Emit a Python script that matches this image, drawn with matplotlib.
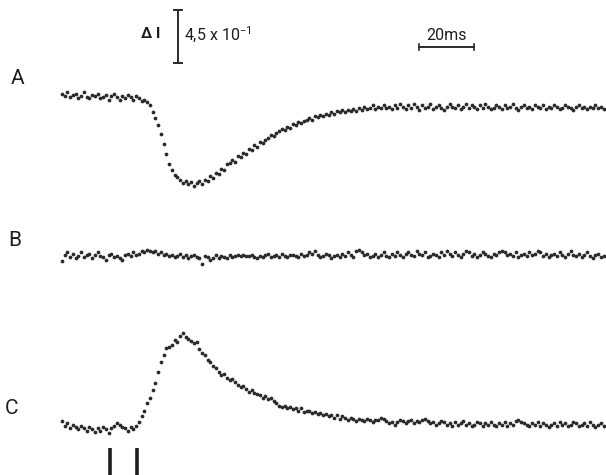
"""Dotted recordings A/B/C with scale bars (scan-style reproduction)."""
import numpy as np
import matplotlib
matplotlib.use("Agg")
import matplotlib.pyplot as plt

# ---- data: one sample per ms, values in units of 1e-2 (Delta I) ----
trace_a = [2, 0, 3, -1, 1, 2, -2, 0, 3, -1, -2, 1, 0, 2, -2, -1, 1, -3, 0, 2,
           -1, -3, 0, -2, 1, -1, -3, 0, -2, -4, -3,
           -5, -8, -14, -19, -25, -32, -41, -49, -58, -63, -67, -69, -71, -74, -72,
           -75, -73, -76, -74, -72, -75, -71, -72, -68, -70, -65, -66, -62, -63, -58,
           -57, -54, -56, -51, -52, -48, -49, -45, -46, -42, -43, -39, -40, -37, -36,
           -33, -34, -31, -30, -28, -29, -26, -27, -24, -25, -22, -23, -21, -20, -19,
           -20, -17, -18, -16, -17, -15, -16, -14, -15, -13, -14, -12, -14, -12, -13,
           -11, -13, -10, -12, -9, -11, -10, -8, -11, -9, -10, -8, -10, -9, -11,
           -8, -10, -7, -9, -11, -8, -10, -7, -9, -12, -8, -10, -9, -7, -11, -9, -8, -10, -12, -9,
           -7, -9, -10, -8, -11, -9, -7, -10, -8, -9, -11, -8, -10, -7, -9, -11, -10, -8, -9, -11,
           -8, -10, -9, -7, -10, -12, -9, -8, -10, -9, -11, -8, -9, -10, -8, -11, -9, -10, -8, -9,
           -11, -10, -8, -9, -10, -12, -9, -8, -10, -9, -11, -9, -10, -8, -10, -9, -11]
trace_b = [-4, 1, 3, -1, 2, -2, 0, 3, -1, 1, 2, -2, 1, 3, 0, -1, -3, 1, 2, -1,
           0, -2, -3, 1, 2, 0, 3, 1, 2, 4, 3, 5, 4, 3, 4, 2, 3, 1, 2, 0,
           1, -1, 0, 2, -1, 1, -2, 0, 1, -1, -2, -7, 0, -1, -3, -2, 1, -2, 0, -1,
           -2, 1, -1, 0, 1, 0, 1, 0, 0, 1, -1, -2, 0, -1, 1, 2, -1, 0, 1, -1,
           2, 0, -1, 1, 1, 0, -1, 2, 0, 1, 3, 2, 4, 1, -1, 0, 2, 1, -2, 0,
           1, -1, 2, 0, 3, 1, -1, 4, 5, 3, 1, 2, -1, 0, 2, -1, 1, 3, 0, -1,
           2, 0, 3, 1, -1, 2, 3, 1, 0, 4, 2, 1, 3, -1, 0, 2, 1, -1, 3, 1,
           4, 2, 0, 3, 1, -1, 2, 4, 3, 0, 2, -1, 1, 3, 2, 0, -1, 2, 1, 3,
           4, 3, 1, 2, 0, 3, -1, 1, 2, 0, 3, 1, 2, 4, 3, 0, 2, -1, 1, 2,
           0, 3, 1, -1, 2, 4, 1, 0, 2, -1, 1, 3, 0, -2, 1, 2, -1, 0]
trace_c = [5, 1, 3, -1, 2, 0, -2, 1, -1, -3, 0, -2, -4, -1, -3, 0, -2, -5, -1, 1,
           3, 2, 0, -1, -3, 0, -2, 1,
           4, 9, 14, 20, 25, 31, 37, 47, 55, 61, 67, 68, 70, 74, 72, 77, 80, 76, 75, 73, 71, 72,
           66, 63, 61, 57, 55, 52, 50, 47, 44, 45, 42, 40, 41, 38, 36, 34, 35, 32, 30, 31,
           29, 28, 27, 25, 26, 24, 25, 22, 20, 18, 17, 18, 16, 17, 15, 16, 14, 16, 13, 14,
           14, 12, 13, 11, 12, 10, 11, 9, 10, 8, 10, 7, 9, 8, 6, 8, 7, 5, 7, 6,
           5, 7, 6, 4, 6, 6, 8, 7, 5, 3, 4, 2, 4, 6, 5, 3, 5, 6, 3, 5,
           4, 6, 7, 5, 3, 4, 2, 3, 5, 4, 2, 3, 1, 4, 2, 3, 5, 2, 3, 1,
           2, 4, 3, 1, 3, 2, 4, 2, 1, 3, 2, 4, 1, 3, 2, 5, 6, 4, 3, 2,
           1, 3, 2, 4, 1, 3, 2, 0, 2, 3, 1, 4, 2, 3, 1, 2, 4, 3, 1, 2,
           3, 1, 4, 2, 0, 2, 3, 1]
labels = ["A", "B", "C"]
stim_times = [17.5, 27.3]      # ms, the two stimulus marks under C
amp_bar = 45                   # 4,5 x 10^-1 in the same 1e-2 units
time_bar = 20                  # ms

# ---- layout (pixel-matched) ----
PX_MS = 2.75
PX_U = 53 / 45
X0 = 62
W, H = 606, 475
offsets = [(H - 96) / PX_U, (H - 256) / PX_U, (H - 427) / PX_U]
label_pos = [(18, 78), (15, 241), (12, 408)]
ink = "#2a2a2a"


def tx(px):
    return (px - X0) / PX_MS


def ty(py):
    return (H - py) / PX_U


plt.rcParams["font.family"] = ["Roboto", "DejaVu Sans"]
fig = plt.figure(figsize=(W / 100, H / 100), dpi=100)
ax = fig.add_axes([0, 0, 1, 1])
ax.set_xlim(tx(0), tx(W))
ax.set_ylim(0, H / PX_U)
ax.axis("off")

for tr, off, lab, (lx, ly) in zip([trace_a, trace_b, trace_c], offsets, labels, label_pos):
    t = np.arange(len(tr))
    ax.plot(t, np.array(tr) + off, "o", ms=2.7, color=ink, mec="none")
    ax.text(tx(lx), ty(ly), lab, fontsize=15, ha="center", va="center", color="#1e1e1e")

# stimulus markers
ax.vlines(stim_times, 0, ty(448), color="#1e1e1e", lw=2.6)

# amplitude scale bar
bx = tx(178)
y_lo = ty(63)
ax.plot([bx, bx], [y_lo, y_lo + amp_bar], color="#2a2a2a", lw=1.4)
for yy in (y_lo, y_lo + amp_bar):
    ax.plot([bx - 1.6, bx + 1.6], [yy, yy], color="#2a2a2a", lw=1.4)
ax.text(tx(151), ty(34), "\u0394 I", fontsize=11, fontweight="bold", ha="center",
        va="center", color="#1e1e1e")
ax.text(tx(184), ty(35), "4,5 x 10$^{\\mathregular{-1}}$", fontsize=11.5,
        ha="left", va="center", color="#1e1e1e")

# time scale bar
t0 = tx(419)
ax.plot([t0, t0 + time_bar], [ty(47), ty(47)], color="#2a2a2a", lw=1.4)
for xx in (t0, t0 + time_bar):
    ax.plot([xx, xx], [ty(44), ty(50)], color="#2a2a2a", lw=1.2)
ax.text(t0 + time_bar / 2, ty(36), "20ms", fontsize=11.5, ha="center", va="center",
        color="#1e1e1e")

fig.savefig("out.png", dpi=100, facecolor="white")
